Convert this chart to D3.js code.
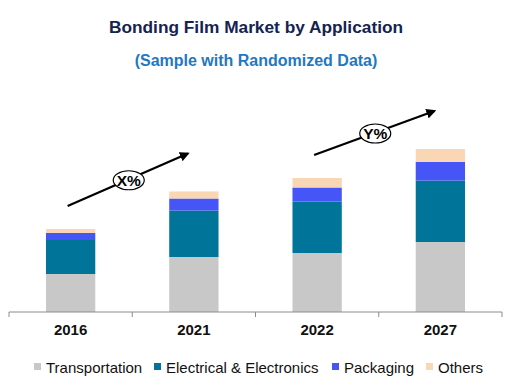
<!DOCTYPE html>
<html>
<head>
<meta charset="utf-8">
<script src="https://cdn.jsdelivr.net/npm/d3@7"></script>
<style>
  body { margin: 0; background: #fff; }
  svg { display: block; font-family: "Liberation Sans", Arial, sans-serif; }
</style>
</head>
<body>
<div id="chart"></div>
<script>
const years = ['2016', '2021', '2022', '2027'];
const series = ['Transportation', 'Electrical & Electronics', 'Packaging', 'Others'];
const transportation = [38, 55, 59, 70];
const electrical = [34, 46.5, 51.5, 61.5];
const packaging = [7, 12, 14, 18.5];
const others = [4, 7, 9.5, 13];
const colors = ['#c8c8c8', '#00759a', '#4655f5', '#f9d6b4'];
// growth arrows: [from year, to year, label]
const arrows = [['2016', '2021', 'X%'], ['2022', '2027', 'Y%']];

const width = 521, height = 387;
const margin = { left: 9, right: 19, top: 112, bottom: 75 };

const table = years.map((y, i) => ({
  year: y,
  'Transportation': transportation[i],
  'Electrical & Electronics': electrical[i],
  'Packaging': packaging[i],
  'Others': others[i]
}));
const stacked = d3.stack().keys(series)(table);

const svg = d3.select('#chart').append('svg')
  .attr('width', width)
  .attr('height', height);

const x = d3.scaleBand()
  .domain(years)
  .range([margin.left, width - margin.right])
  .paddingInner(0.6)
  .paddingOuter(0.3);

const y = d3.scaleLinear()
  .domain([0, 200])
  .range([height - margin.bottom, height - margin.bottom - 200]);

const color = d3.scaleOrdinal().domain(series).range(colors);

// titles
svg.append('text')
  .attr('x', 256).attr('y', 33)
  .attr('text-anchor', 'middle')
  .style('font-size', '17.3px').style('font-weight', 'bold')
  .style('fill', '#14234f')
  .text('Bonding Film Market by Application');

svg.append('text')
  .attr('x', 256).attr('y', 66)
  .attr('text-anchor', 'middle')
  .style('font-size', '16px').style('font-weight', 'bold')
  .style('fill', '#1f78c1')
  .text('(Sample with Randomized Data)');

// bars
svg.append('g').selectAll('g')
  .data(stacked)
  .join('g')
  .attr('fill', (d) => color(d.key))
  .selectAll('rect')
  .data((d) => d)
  .join('rect')
  .attr('x', (d) => x(d.data.year))
  .attr('y', (d) => y(d[1]))
  .attr('width', x.bandwidth())
  .attr('height', (d) => y(d[0]) - y(d[1]));

// axis
const bounds = [margin.left, width - margin.right];
const axis = svg.append('g').attr('transform', `translate(0, ${y(0)})`);
axis.append('line')
  .attr('x1', bounds[0]).attr('x2', bounds[1])
  .attr('stroke', '#8c8c8c').attr('stroke-width', 1);
const tickXs = d3.range(years.length + 1).map((i) => bounds[0] + i * (bounds[1] - bounds[0]) / years.length);
axis.selectAll('.tick')
  .data(tickXs)
  .join('line')
  .attr('x1', (d) => d).attr('x2', (d) => d)
  .attr('y1', 0).attr('y2', 5)
  .attr('stroke', '#8c8c8c');
axis.selectAll('text')
  .data(years)
  .join('text')
  .attr('x', (d) => x(d) + x.bandwidth() / 2)
  .attr('y', 23)
  .attr('text-anchor', 'middle')
  .style('font-size', '15px').style('font-weight', 'bold')
  .style('fill', '#111')
  .text((d) => d);

// growth arrows
svg.append('defs').append('marker')
  .attr('id', 'head')
  .attr('viewBox', '0 0 10 10')
  .attr('refX', 8).attr('refY', 5)
  .attr('markerWidth', 4.5).attr('markerHeight', 4.5)
  .attr('orient', 'auto')
  .append('path')
  .attr('d', 'M0,0 L10,5 L0,10 z')
  .attr('fill', '#000');

const tops = {};
stacked[stacked.length - 1].forEach((d) => { tops[d.data.year] = d[1]; });

arrows.forEach(([a, b, label]) => {
  const x1 = x(a) + x.bandwidth() / 2 - 3;
  const x2 = x(b) + x.bandwidth() / 2 - 6;
  const y1 = y(tops[a]) - 23;
  const y2 = y(tops[b]) - 38;
  const g = svg.append('g');
  g.append('line')
    .attr('x1', x1).attr('y1', y1)
    .attr('x2', x2).attr('y2', y2)
    .attr('stroke', '#000').attr('stroke-width', 2.2)
    .attr('marker-end', 'url(#head)');
  const cx = (x1 + x2) / 2 + 1, cy = (y1 + y2) / 2 + 0.5;
  g.append('ellipse')
    .attr('cx', cx).attr('cy', cy)
    .attr('rx', 15.5).attr('ry', 9.5)
    .attr('fill', '#fff').attr('stroke', '#000').attr('stroke-width', 1.2);
  g.append('text')
    .attr('x', cx).attr('y', cy + 5.5)
    .attr('text-anchor', 'middle')
    .style('font-size', '15.5px').style('font-weight', 'bold')
    .text(label);
});

// legend
const legendPos = [34, 154, 332, 426];
const legend = svg.append('g').attr('transform', 'translate(0, 367)');
const items = legend.selectAll('g')
  .data(series)
  .join('g')
  .attr('transform', (d, i) => `translate(${legendPos[i]}, 0)`);
items.append('rect')
  .attr('x', 0).attr('y', -4)
  .attr('width', 7).attr('height', 7)
  .attr('fill', (d) => color(d));
items.append('text')
  .attr('x', 12).attr('y', 5.5)
  .style('font-size', '15px')
  .style('fill', '#111')
  .text((d) => d);
</script>
</body>
</html>
